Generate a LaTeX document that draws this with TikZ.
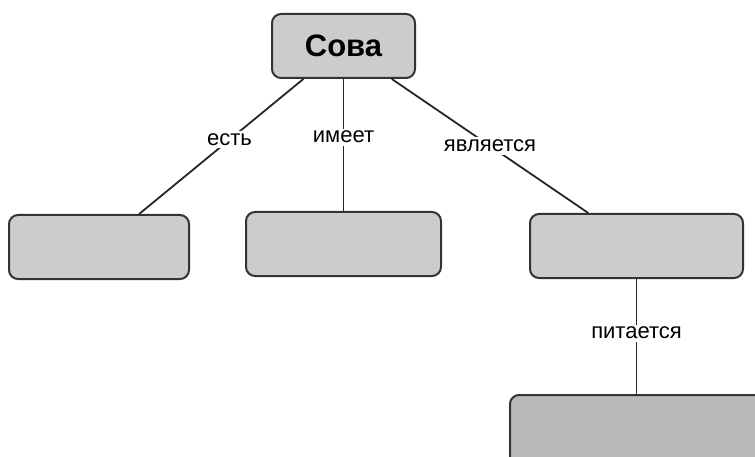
\documentclass[tikz,border=0pt]{standalone}
\usepackage{fontspec}
\setmainfont{Liberation Sans}
\begin{document}
\begin{tikzpicture}[x=1pt,y=-1pt,
  box/.style={draw=black!80,line width=2pt,rounded corners=9pt,fill=black!20,inner sep=0pt},
  conn/.style={draw=black!85,line width=1.8pt},
  lbl/.style={fill=white,inner sep=2.5pt,font=\fontsize{22}{26}\selectfont}]
\clip (0,0) rectangle (755,457);
\fill[white] (0,0) rectangle (755,457);
\node[box,minimum width=143pt,minimum height=64pt,font=\fontsize{31}{36}\selectfont\bfseries] (sova) at (343.5,46) {Сова};
\node[box,minimum width=180pt,minimum height=64pt] (b1) at (99,247) {};
\node[box,minimum width=195pt,minimum height=64pt] (b2) at (343.5,244) {};
\node[box,minimum width=213pt,minimum height=64pt] (b3) at (636.5,246) {};
\node[box,minimum width=300pt,minimum height=90pt,fill=black!27] (b4) at (660,440) {};
\coordinate (b4top) at (b3 |- b4.north);
\draw[conn] (sova) -- node[lbl,pos=0.45] (l1) {есть} (b1);
\draw[conn] (sova) -- node[lbl,pos=0.44] (l2) {имеет} (b2);
\draw[conn] (sova) -- node[lbl,pos=0.5] (l3) {является} (b3);
\draw[conn] (b3) -- node[lbl,pos=0.47] (l4) {питается} (b4top);
\end{tikzpicture}
\end{document}
